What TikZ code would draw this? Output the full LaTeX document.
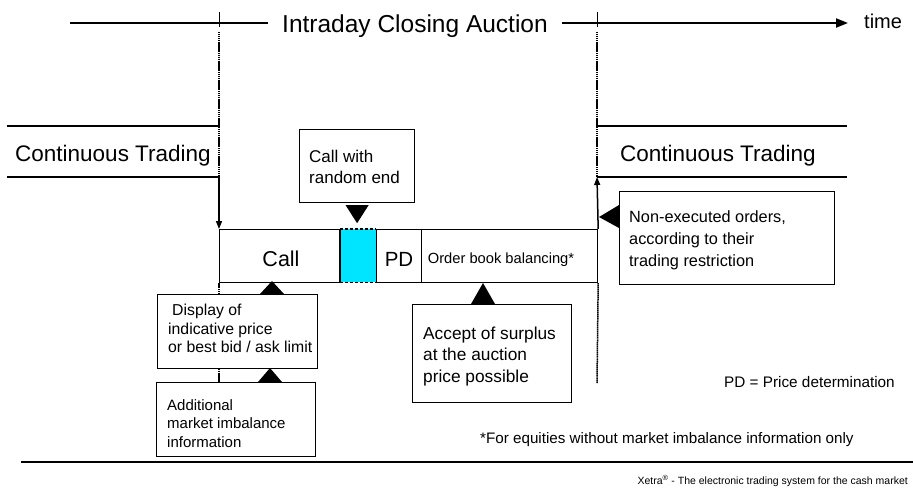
\documentclass[tikz,border=0pt]{standalone}
\usepackage{fontspec}
\setmainfont{Liberation Sans}
\usetikzlibrary{arrows.meta,calc}
\definecolor{cyanfill}{RGB}{0,229,255}
\begin{document}
\begin{tikzpicture}[x=1pt,y=-1pt,
  box/.style={draw, line width=1.2pt, fill=white, inner sep=0pt, anchor=north west},
  txt/.style={inner sep=0pt, anchor=base west, align=left},
  ctxt/.style={inner sep=0pt, anchor=base},
  vdot/.style={line width=1.5pt, dash pattern=on 1.4pt off 0.5pt},
  hline/.style={line width=1.2pt},
  tick/.style={line width=0.8pt},
  timeline/.style={line width=2pt},
  vsolid/.style={line width=1.5pt},
  tri/.style={fill=black}]
\useasboundingbox (0,0) rectangle (913,499);

% --- time axis ---
\coordinate (tl0) at (70,23);
\coordinate (tarr) at (848,23);
\node[ctxt, font=\fontsize{24.5}{28}\selectfont, inner xsep=14pt] (title) at (415,32) {Intraday Closing Auction};
\draw[timeline] (tl0) -- (tl0 -| title.west);
\draw[timeline, -{Triangle[length=12pt,width=9pt]}] (title.east |- tl0) -- (tarr);
\node[txt, font=\fontsize{20}{24}\selectfont] (time) at (864,28.5) {time};

% --- vertical markers (behind boxes) ---
\coordinate (L0) at (219,12); \coordinate (L1) at (219,27);
\coordinate (L2) at (219,32); \coordinate (L3) at (219,177);
\coordinate (L4) at (219,456);
\coordinate (R0) at (597,12); \coordinate (R1) at (597,27);
\coordinate (R2) at (597,32); \coordinate (R3) at (597,177);
\coordinate (R4) at (597,383);
\draw[tick] (L0) -- (L1);
\draw[tick] (R0) -- (R1);
\draw[vdot] (L2) -- (L3);
\draw[vdot] (R2) -- (R3);

% --- continuous trading bands ---
\coordinate (cl1) at (7,126);   \coordinate (cl2) at (7,177);
\coordinate (cr1) at (847,126); \coordinate (cr2) at (847,177);
\draw[hline] (cl1) -- (cl1 -| L3);
\draw[hline] (cl2) -- (L3);
\draw[hline] (cr1 -| R3) -- (cr1);
\draw[hline] (R3) -- (cr2);
\node[txt, font=\fontsize{22.5}{27}\selectfont] (ctleft) at (15,161) {Continuous Trading};
\node[txt, font=\fontsize{22.5}{27}\selectfont] (ctright) at (620,161) {Continuous Trading};

% --- auction bar ---
\node[box, minimum width=121pt, minimum height=53pt] (call) at (219,229) {};
\node[fill=cyanfill, inner sep=0pt, anchor=north west, minimum width=36pt, minimum height=53pt] (rend) at (340,229) {};
\node[box, minimum width=45pt, minimum height=53pt] (pd) at (376,229) {};
\node[box, minimum width=176pt, minimum height=53pt] (ob) at (421,229) {};
\draw[line width=1.2pt] (rend.north west) -- (rend.south west);
\draw[line width=1.2pt] (rend.north east) -- (rend.south east);
\draw[line width=1.2pt, dash pattern=on 3pt off 2pt] (rend.north west) -- (rend.north east);
\draw[line width=1.2pt, dash pattern=on 3pt off 2pt] (rend.south west) -- (rend.south east);
\node[ctxt, font=\fontsize{21.5}{25}\selectfont] (calltxt) at (281,266.7) {Call};
\node[ctxt, font=\fontsize{20.5}{24}\selectfont] (pdtxt) at (399,266) {PD};
\node[ctxt, font=\fontsize{14.7}{18}\selectfont] (obtxt) at (501,263) {Order book balancing*};

\draw[vsolid, -{Triangle[length=8pt,width=6pt]}] (L3) -- (call.north west);
\draw[vsolid, -{Triangle[length=8pt,width=6pt]}] (ob.north east) -- (R3);
\draw[vdot] (call.south west) -- (L4);
\draw[vdot] (ob.south east) -- (R4);

% --- callout boxes (text anchored at baseline of the last line) ---
\node[box, minimum width=115pt, minimum height=73pt] (rnd) at (299,129) {};
\node[txt, font=\fontsize{17}{21}\selectfont] (rndtxt) at (309,183) {Call with\\random end};

\node[box, minimum width=215pt, minimum height=93pt] (nonex) at (619,191) {};
\node[txt, font=\fontsize{16.3}{22}\selectfont] (nonextxt) at (629,266.7) {Non-executed orders,\\according to their\\trading restriction};

\node[box, minimum width=160pt, minimum height=74pt] (disp) at (157,294) {};
\node[txt, font=\fontsize{15.8}{18.4}\selectfont] (disptxt) at (168,352.7) {\hspace*{4pt}Display of\\indicative price\\or best bid / ask limit};

\node[box, minimum width=159pt, minimum height=74pt] (addl) at (156,382) {};
\node[txt, font=\fontsize{15}{18.5}\selectfont] (addltxt) at (167,447) {Additional\\market imbalance\\information};

\node[box, minimum width=159pt, minimum height=98pt] (acc) at (412,304) {};
\node[txt, font=\fontsize{17.3}{21.5}\selectfont] (acctxt) at (423,382) {Accept of surplus\\at the auction\\price possible};

% --- pointer triangles ---
\fill[tri] ($(rnd.south)+(-11.5,2)$) -- ($(rnd.south)+(11.5,2)$) -- ($(rnd.south)+(0,20)$) -- cycle;
\fill[tri] ($(nonex.north west)+(0,14)$) -- ($(nonex.north west)+(0,37)$) -- ($(nonex.north west)+(-20,26)$) -- cycle;
\fill[tri] ($(disp.north west)+(103,0)$) -- ($(disp.north west)+(127,0)$) -- ($(disp.north west)+(115,-13)$) -- cycle;
\fill[tri] ($(addl.north west)+(102,0)$) -- ($(addl.north west)+(126,0)$) -- ($(addl.north west)+(114,-14)$) -- cycle;
\fill[tri] ($(acc.north west)+(59,0)$) -- ($(acc.north west)+(83,0)$) -- ($(acc.north west)+(71,-21)$) -- cycle;

% --- legend and footer ---
\node[txt, font=\fontsize{15.3}{18}\selectfont] (legpd) at (724,387) {PD = Price determination};
\node[txt, font=\fontsize{15.2}{18}\selectfont] (legeq) at (480,443) {*For equities without market imbalance information only};
\coordinate (b0) at (21,462); \coordinate (b1) at (913,462);
\draw[line width=1.5pt] (b0) -- (b1);
\node[inner sep=0pt, anchor=base east, font=\fontsize{10.5}{12}\selectfont] (footer) at (908,484) {Xetra\textsuperscript{®} - The electronic trading system for the cash market};
\end{tikzpicture}
\end{document}
